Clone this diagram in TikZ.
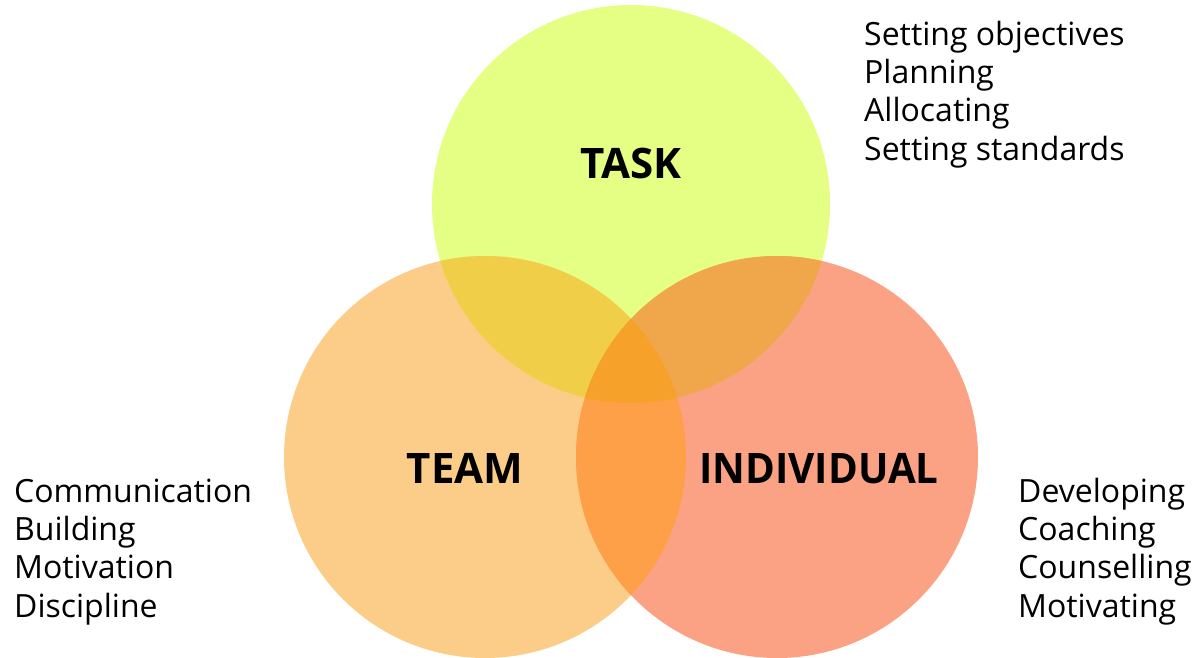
\documentclass[tikz,border=0pt]{standalone}
\usepackage{fontspec}
\setmainfont{Open Sans}
\definecolor{taskc}{RGB}{229,254,132}
\definecolor{teamc}{RGB}{252,205,136}
\definecolor{indc}{RGB}{252,162,132}
\definecolor{taskteam}{RGB}{241,206,72}
\definecolor{taskind}{RGB}{240,166,74}
\definecolor{teamind}{RGB}{253,160,72}
\definecolor{allthree}{RGB}{245,161,42}
\tikzset{
  headline/.style={font=\fontsize{42}{50}\selectfont\bfseries, inner sep=0pt},
  itemlist/.style={font=\fontsize{32}{38.3}\selectfont, align=left, inner sep=0pt, anchor=base west},
}
\newcommand{\taskdisc}{(631,204) circle[radius=199]}
\newcommand{\teamdisc}{(485,457) circle[radius=201]}
\newcommand{\inddisc}{(777,457) circle[radius=201]}
\begin{document}
\begin{tikzpicture}[x=1pt,y=-1pt]
\useasboundingbox (0,0) rectangle (1196,657);
\clip (0,0) rectangle (1196,657);
% three discs
\fill[taskc] \taskdisc;
\fill[teamc] \teamdisc;
\fill[indc] \inddisc;
% pairwise overlaps
\begin{scope}
  \clip \taskdisc;
  \fill[taskteam] \teamdisc;
  \fill[taskind] \inddisc;
\end{scope}
\begin{scope}
  \clip \teamdisc;
  \fill[teamind] \inddisc;
\end{scope}
% common centre
\begin{scope}
  \clip \taskdisc;
  \clip \teamdisc;
  \fill[allthree] \inddisc;
\end{scope}
% circle labels
\node[headline, anchor=base] (task) at (631,178) {TASK};
\node[headline, anchor=base] (team) at (465,483) {TEAM};
\node[headline, anchor=base, xscale=0.96] (indiv) at (819,483) {INDIVIDUAL};
% item lists (anchored on the baseline of the last line)
\node[itemlist] (tasklist) at (864,160) {Setting objectives\\Planning\\Allocating\\Setting standards};
\node[itemlist] (teamlist) at (14,617) {Communication\\Building\\Motivation\\Discipline};
\node[itemlist] (indlist) at (1018,617) {Developing\\Coaching\\Counselling\\Motivating};
\end{tikzpicture}
\end{document}
